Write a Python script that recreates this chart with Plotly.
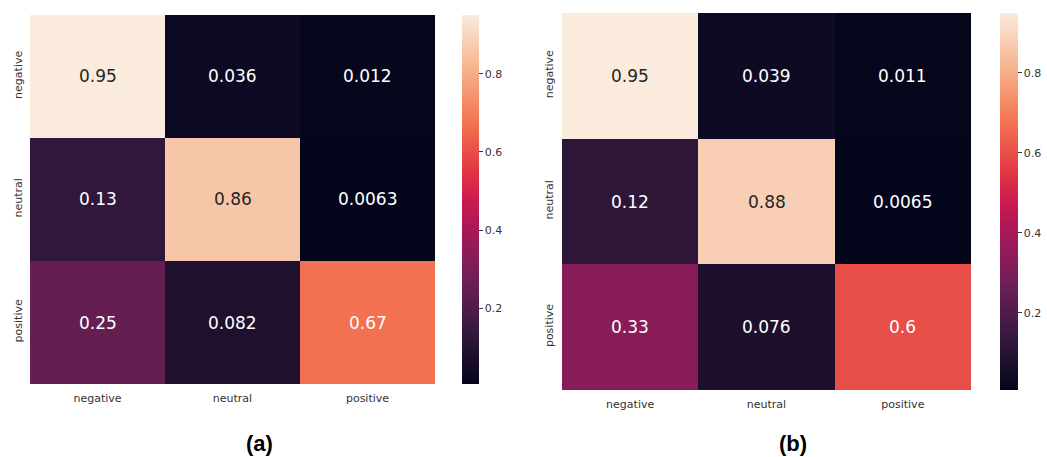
import plotly.graph_objects as go

categories = ["negative", "neutral", "positive"]

values_a = [
    [0.95, 0.036, 0.012],
    [0.13, 0.86, 0.0063],
    [0.25, 0.082, 0.67],
]
labels_a = [
    ["0.95", "0.036", "0.012"],
    ["0.13", "0.86", "0.0063"],
    ["0.25", "0.082", "0.67"],
]

values_b = [
    [0.95, 0.039, 0.011],
    [0.12, 0.88, 0.0065],
    [0.33, 0.076, 0.6],
]
labels_b = [
    ["0.95", "0.039", "0.011"],
    ["0.12", "0.88", "0.0065"],
    ["0.33", "0.076", "0.6"],
]

cbar_ticks = [0.2, 0.4, 0.6, 0.8]
panel_labels = ["(a)", "(b)"]

rocket = [
    [0.0, "#03051a"],
    [0.143, "#35193e"],
    [0.286, "#701f57"],
    [0.429, "#ad1759"],
    [0.5, "#cb1b4f"],
    [0.571, "#e13342"],
    [0.714, "#f37651"],
    [0.857, "#f6b48f"],
    [1.0, "#faebdd"],
]

W, H = 1047, 457


def px_x(p):
    return p / W


def px_y(p):
    return 1 - p / H


panels = [
    dict(vals=values_a, labs=labels_a, x0=30, x1=435, y0=15, y1=384,
         cbx=462, cbw=17, xa="x", ya="y", label_x=259, label_y=443,
         xstand=6, ystand=5),
    dict(vals=values_b, labs=labels_b, x0=562, x1=971, y0=13, y1=390,
         cbx=1000, cbw=18, xa="x2", ya="y2", label_x=793, label_y=443,
         xstand=6, ystand=6),
]

fig = go.Figure()
annotations = []
tick_font = dict(family="DejaVu Sans", size=11, color="#333333")

for i, p in enumerate(panels):
    vals = p["vals"]
    flat = [v for row in vals for v in row]
    zmin, zmax = min(flat), max(flat)
    fig.add_trace(go.Heatmap(
        z=vals, x=categories, y=categories,
        xaxis=p["xa"], yaxis=p["ya"],
        colorscale=rocket, zmin=zmin, zmax=zmax,
        xgap=0, ygap=0,
        colorbar=dict(
            x=px_x(p["cbx"]), xanchor="left", xref="paper",
            y=px_y(p["y0"]), yanchor="top",
            len=p["y1"] - p["y0"], lenmode="pixels",
            thickness=p["cbw"], thicknessmode="pixels",
            outlinewidth=0, xpad=0, ypad=0,
            tickvals=cbar_ticks, ticktext=[str(t) for t in cbar_ticks],
            ticks="outside", ticklen=4, tickcolor="#333333", tickwidth=1,
            tickfont=tick_font,
        ),
        hoverinfo="skip",
    ))
    for r, cat_y in enumerate(categories):
        for c, cat_x in enumerate(categories):
            norm = (vals[r][c] - zmin) / (zmax - zmin)
            color = "#262626" if norm > 0.8 else "#ffffff"
            annotations.append(dict(
                x=cat_x, y=cat_y, xref=p["xa"], yref=p["ya"],
                text=p["labs"][r][c], showarrow=False,
                font=dict(family="DejaVu Sans", size=17, color=color),
            ))
    annotations.append(dict(
        x=px_x(p["label_x"]), y=px_y(p["label_y"]), xref="paper", yref="paper",
        xanchor="center", yanchor="middle",
        text="<b>" + panel_labels[i] + "</b>", showarrow=False,
        font=dict(family="Liberation Sans", size=22, color="#000000"),
    ))
    suffix = "" if i == 0 else "2"
    fig.update_layout(**{
        "xaxis" + suffix: dict(
            domain=[px_x(p["x0"]), px_x(p["x1"])], anchor=p["ya"],
            showgrid=False, zeroline=False, showline=False, ticks="",
            tickfont=tick_font, ticklabelstandoff=p["xstand"],
            fixedrange=True, automargin=False,
        ),
        "yaxis" + suffix: dict(
            domain=[px_y(p["y1"]), px_y(p["y0"])], anchor=p["xa"],
            autorange="reversed",
            showgrid=False, zeroline=False, showline=False, ticks="",
            tickfont=tick_font, tickangle=-90, ticklabelstandoff=p["ystand"],
            fixedrange=True, automargin=False,
        ),
    })

fig.update_layout(
    width=W, height=H,
    margin=dict(l=0, r=0, t=0, b=0, autoexpand=False),
    paper_bgcolor="white", plot_bgcolor="white",
    annotations=annotations,
    showlegend=False,
)

fig.write_html(
    "out.html",
    config={"displayModeBar": False},
    post_script="document.body.style.margin='0';document.body.style.overflow='hidden';",
)
